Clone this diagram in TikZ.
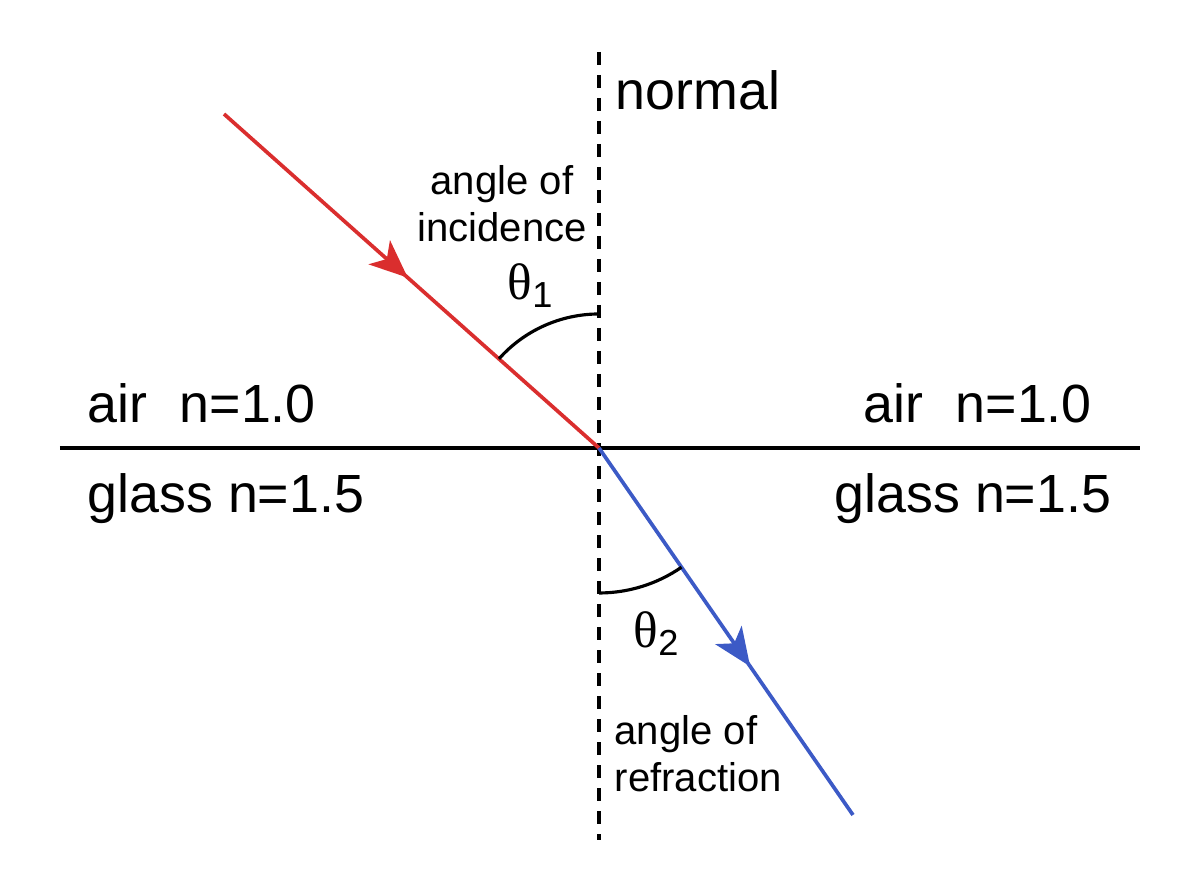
\documentclass[tikz,border=0pt]{standalone}
\usepackage{fontspec}
\setmainfont{Liberation Sans}
\newfontfamily\thetafont{Liberation Serif}
\usetikzlibrary{arrows.meta,decorations.markings}
\definecolor{rayred}{RGB}{218,46,46}
\definecolor{rayblue}{RGB}{60,90,198}
\newcommand{\angname}[1]{{\thetafont θ}\raisebox{-0.08cm}{\fontsize{10.3}{11}\selectfont #1}}
\begin{document}
    \begin{tikzpicture}[
        big/.style={inner sep=0pt, font=\fontsize{15.3}{18}\selectfont},
        small/.style={inner sep=0pt, font=\fontsize{11.4}{13.4}\selectfont},
        ray/.style={line width=1.05pt},
        arrowat/.style={postaction={decorate}, decoration={markings,
            mark=at position #1 with {\arrow{Stealth[length=0.38cm, width=0.32cm, inset=0.1cm]}}}}
    ]
        \useasboundingbox (-5.99,-4.48) rectangle (6.01,4.48);
        % points
        \coordinate (O) at (0,0);
        \coordinate (src) at (-3.75,3.34);
        \coordinate (dst) at (2.54,-3.67);
        \coordinate (ntop) at (0,3.96);
        \coordinate (nbot) at (0,-3.92);
        \coordinate (sleft) at (-5.39,0);
        \coordinate (sright) at (5.41,0);
        % normal and surface
        \draw[line width=1pt, dash pattern=on 0.13cm off 0.1cm] (ntop) -- (nbot);
        \draw[line width=0.9pt] (sleft) -- (sright);
        % rays
        \draw[ray, rayred, arrowat=0.49] (src) -- (O);
        \draw[ray, rayblue, arrowat=0.595] (O) -- (dst);
        % angles
        \draw[line width=0.9pt] (0,1.34) arc[start angle=90, end angle=138.3, radius=1.34];
        \draw[line width=0.9pt] (0,-1.45) arc[start angle=-90, end angle=-55.3, radius=1.45];
        % labels
        \node[big, anchor=base west] (normal) at (0.16,3.38) {normal};
        \node[big, anchor=base west] (airL) at (-5.12,0.25) {air\hspace{0.6em}n=1.0};
        \node[big, anchor=base west] (airR) at (2.64,0.25) {air\hspace{0.6em}n=1.0};
        \node[big, anchor=base west] (glassL) at (-5.12,-0.65) {glass n=1.5};
        \node[big, anchor=base west] (glassR) at (2.35,-0.65) {glass n=1.5};
        \node[small, align=center, anchor=base] (inc) at (-0.97,2.06) {angle of\\incidence};
        \node[small, align=left, anchor=base west] (refr) at (0.15,-3.44) {angle of\\refraction};
        \node[inner sep=0pt, font=\fontsize{14.6}{16}\selectfont, anchor=base west] (th1) at (-0.92,1.48) {\angname{1}};
        \node[inner sep=0pt, font=\fontsize{14.6}{16}\selectfont, anchor=base west] (th2) at (0.34,-2.0) {\angname{2}};
    \end{tikzpicture}
\end{document}
